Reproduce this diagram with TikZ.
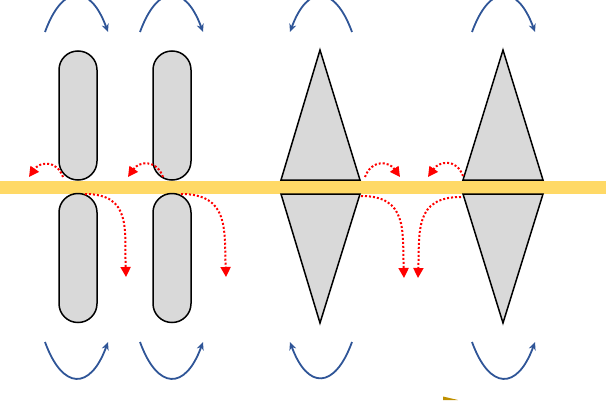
\documentclass[tikz,border=0pt]{standalone}
\usetikzlibrary{arrows.meta}
\definecolor{barYellow}{HTML}{FFD966}
\definecolor{swingBlue}{HTML}{2F5597}
\definecolor{darkGold}{HTML}{BF9000}

\begin{document}
\begin{tikzpicture}[x=1pt,y=1pt,node distance=94pt,
    main node/.style={draw,fill=black!15,line width=1.5pt,rounded corners=18.9pt,minimum width=38pt,minimum height=129pt,inner sep=0pt},
    tri/.style={draw,fill=black!15,line width=1.5pt,line join=miter},
    flow/.style={red,dotted,line width=2pt,-{Triangle[length=10pt,width=10pt]}},
    swing/.style={swingBlue,line width=1.8pt,-{Stealth[length=8pt,width=7pt]}}]

            \useasboundingbox (0,0) rectangle (606,400);

            % bar
            \fill[barYellow] (0,206.5) rectangle (606,219);
            \fill[darkGold] (443,3.5) -- (458,0) -- (443,0) -- cycle;

            \node[main node] (1) at (78,284.5) {};
            \node[main node] (2) [right of = 1] {};
            \node[main node] (3) at (78,142) {};
            \node[main node] (4) [right of = 3] {};

            \draw[tri] (281,220) -- (320,350) -- (360,220) -- cycle;
            \draw[tri] (281,206) -- (320,77) -- (360,206) -- cycle;
            \draw[tri] (463,220) -- (503,350) -- (543,220) -- cycle;
            \draw[tri] (463,206) -- (503,77) -- (543,206) -- cycle;

            % flow ends
            \coordinate (u1) at (63,223);  \coordinate (v1) at (29,223);
            \coordinate (w1) at (85,206);  \coordinate (z1) at (126,123);
            \coordinate (u2) at (163,223); \coordinate (v2) at (128,223);
            \coordinate (w2) at (181,206); \coordinate (z2) at (226,123);
            \coordinate (u3) at (365,223); \coordinate (v3) at (400,223);
            \coordinate (w3) at (361,204); \coordinate (z3) at (404,122);
            \coordinate (u4) at (463,224); \coordinate (v4) at (428,223);
            \coordinate (w4) at (461,203); \coordinate (z4) at (418,122);

            \path[flow]
                (u1) edge[out=110,in=55,looseness=1.4] (v1)
                (w1) edge[out=0,in=92,looseness=1.3] (z1)
                (u2) edge[out=110,in=55,looseness=1.4] (v2)
                (w2) edge[out=0,in=92,looseness=1.3] (z2)
                (u3) edge[out=70,in=125,looseness=1.4] (v3)
                (w3) edge[out=0,in=92,looseness=1.3] (z3)
                (u4) edge[out=110,in=55,looseness=1.4] (v4)
                (w4) edge[out=180,in=88,looseness=1.3] (z4)
            ;

            % swing ends
            \coordinate (p1) at (45,368);  \coordinate (q1) at (108,368);
            \coordinate (p2) at (140,368); \coordinate (q2) at (203,368);
            \coordinate (p3) at (352,368); \coordinate (q3) at (290,368);
            \coordinate (p4) at (472,368); \coordinate (q4) at (535,368);
            \coordinate (r1) at (45,58);   \coordinate (s1) at (108,58);
            \coordinate (r2) at (140,58);  \coordinate (s2) at (203,58);
            \coordinate (r3) at (352,58);  \coordinate (s3) at (290,58);
            \coordinate (r4) at (472,58);  \coordinate (s4) at (535,58);

            \path[swing,looseness=2.1]
                (p1) edge[out=70,in=110] (q1)
                (p2) edge[out=70,in=110] (q2)
                (p3) edge[out=110,in=70] (q3)
                (p4) edge[out=70,in=110] (q4)
                (r1) edge[out=-70,in=-110] (s1)
                (r2) edge[out=-70,in=-110] (s2)
                (r3) edge[out=-110,in=-70] (s3)
                (r4) edge[out=-70,in=-110] (s4)
            ;
        \end{tikzpicture}
\end{document}
